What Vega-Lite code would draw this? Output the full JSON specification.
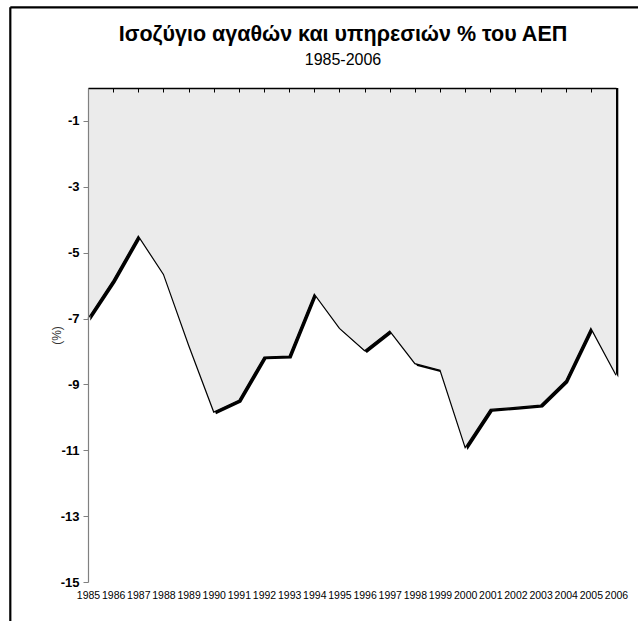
{
  "$schema": "https://vega.github.io/schema/vega-lite/v6.json",
  "width": 528,
  "height": 494,
  "autosize": {"type": "none"},
  "padding": {"left": 88, "top": 88, "right": 22, "bottom": 39},
  "background": "white",
  "config": {
    "view": {"stroke": null},
    "font": "Liberation Sans"
  },
  "title": {
    "text": "Ισοζύγιο αγαθών και υπηρεσιών % του ΑΕΠ",
    "subtitle": "1985-2006",
    "frame": "group",
    "anchor": "middle",
    "dx": -9,
    "offset": -62,
    "fontSize": 21.5,
    "fontWeight": "bold",
    "color": "black",
    "subtitleFontSize": 16,
    "subtitleColor": "black",
    "subtitlePadding": 7,
    "font": "Liberation Sans",
    "subtitleFont": "Liberation Sans"
  },
  "data": {
    "values": [
      {"year": 1985, "value": -7.0},
      {"year": 1986, "value": -5.84},
      {"year": 1987, "value": -4.5},
      {"year": 1988, "value": -5.66},
      {"year": 1989, "value": -7.81},
      {"year": 1990, "value": -9.84},
      {"year": 1991, "value": -9.48},
      {"year": 1992, "value": -8.17},
      {"year": 1993, "value": -8.14},
      {"year": 1994, "value": -6.26},
      {"year": 1995, "value": -7.3},
      {"year": 1996, "value": -7.98},
      {"year": 1997, "value": -7.38},
      {"year": 1998, "value": -8.37},
      {"year": 1999, "value": -8.57},
      {"year": 2000, "value": -10.92},
      {"year": 2001, "value": -9.76},
      {"year": 2002, "value": -9.7},
      {"year": 2003, "value": -9.63},
      {"year": 2004, "value": -8.89},
      {"year": 2005, "value": -7.3},
      {"year": 2006, "value": -8.72}
    ]
  },
  "resolve": {"axis": {"x": "independent"}},
  "layer": [
    {
      "mark": {"type": "area", "color": "black", "xOffset": 2.3, "yOffset": 2.3},
      "encoding": {
        "x": {
          "field": "year", "type": "quantitative",
          "scale": {"domain": [1985, 2006], "nice": false, "zero": false},
          "axis": {
            "orient": "bottom",
            "values": [1985,1986,1987,1988,1989,1990,1991,1992,1993,1994,1995,1996,1997,1998,1999,2000,2001,2002,2003,2004,2005,2006],
            "format": "d",
            "domain": false,
            "ticks": false,
            "grid": false,
            "labelOverlap": false,
            "labelFlush": false,
            "labelPadding": 8,
            "labelFontSize": 10.5,
            "labelColor": "black",
            "title": null
          }
        },
        "y": {
          "field": "value", "type": "quantitative",
          "scale": {"domain": [-15, 0], "nice": false, "zero": false},
          "axis": {
            "orient": "left",
            "values": [-1, -3, -5, -7, -9, -11, -13, -15],
            "labelExpr": "replace(datum.label, '−', '-')",
            "grid": false,
            "domainColor": "#808080",
            "domainWidth": 1.2,
            "tickColor": "#808080",
            "tickSize": 5,
            "labelFontSize": 13,
            "labelFontWeight": "bold",
            "labelColor": "black",
            "labelPadding": 4,
            "zindex": 1,
            "title": "(%)",
            "titleFontSize": 12,
            "titleFontWeight": "normal",
            "titleColor": "#333333",
            "titlePadding": -3
          }
        },
        "y2": {"datum": 0}
      }
    },
    {
      "mark": {"type": "area", "color": "#ebebeb"},
      "encoding": {
        "x": {
          "field": "year", "type": "quantitative",
          "axis": {
            "orient": "top",
            "values": [1985,1986,1987,1988,1989,1990,1991,1992,1993,1994,1995,1996,1997,1998,1999,2000,2001,2002,2003,2004,2005,2006],
            "labels": false,
            "grid": false,
            "domainColor": "black",
            "domainWidth": 1.5,
            "tickColor": "black",
            "tickSize": -4,
            "zindex": 1,
            "title": null
          }
        },
        "y": {"field": "value", "type": "quantitative"},
        "y2": {"datum": 0}
      }
    },
    {
      "mark": {"type": "line", "color": "black", "strokeWidth": 1.2},
      "encoding": {
        "x": {"field": "year", "type": "quantitative", "axis": null},
        "y": {"field": "value", "type": "quantitative"}
      }
    },
    {
      "data": {"values": [{}]},
      "mark": {"type": "rule", "color": "black", "strokeWidth": 2.2},
      "encoding": {
        "x": {"datum": 1981.91, "type": "quantitative", "axis": null},
        "y": {"datum": 2.45, "type": "quantitative"},
        "y2": {"datum": -17}
      }
    },
    {
      "data": {"values": [{}]},
      "mark": {"type": "rule", "color": "black", "strokeWidth": 2.2},
      "encoding": {
        "x": {"datum": 1981.91, "type": "quantitative", "axis": null},
        "x2": {"datum": 2009},
        "y": {"datum": 2.45, "type": "quantitative"}
      }
    }
  ]
}
